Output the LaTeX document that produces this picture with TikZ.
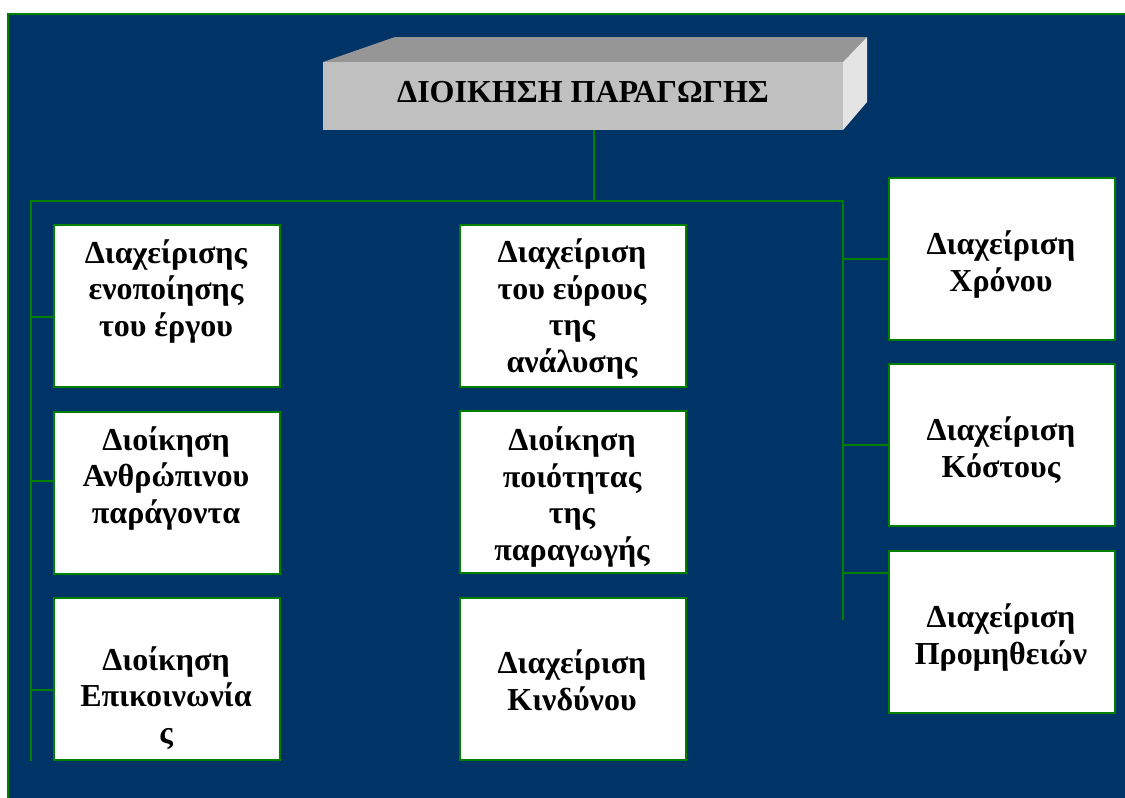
\documentclass[tikz,border=0pt]{standalone}
\usepackage{fontspec}
\setmainfont{Liberation Serif}
\definecolor{bgblue}{RGB}{0,51,102}
\definecolor{lgreen}{RGB}{0,128,0}
\definecolor{frontgray}{RGB}{192,192,192}
\definecolor{topgray}{RGB}{150,150,150}
\definecolor{sidegray}{RGB}{228,228,228}
\tikzset{
  conn/.style={draw=lgreen, line width=2pt},
  wbox/.style={draw=lgreen, line width=2pt, fill=white, minimum width=226pt, minimum height=162pt, inner sep=0pt, anchor=north west},
  wtext/.style={font=\fontsize{32}{36.5}\selectfont\bfseries, align=center, anchor=base, inner sep=0pt},
}
\begin{document}
\begin{tikzpicture}[x=1pt,y=-1pt]
\useasboundingbox (0,0) rectangle (1125,798);
\fill[bgblue] (7,13) rectangle (1125,798);
\draw[lgreen, line width=2pt] (8,798) -- (8,14) -- (1125,14);
% 3D title box
\fill[topgray] (323,62) -- (395,37) -- (867,37) -- (843,62) -- cycle;
\fill[sidegray] (843,62) -- (867,37) -- (867,102) -- (843,130) -- cycle;
\node[fill=frontgray, minimum width=520pt, minimum height=68pt, inner sep=0pt, anchor=north west] (top) at (323,62) {};
\node[font=\fontsize{32}{36}\selectfont\bfseries, anchor=base, inner sep=0pt] (toptext) at (583,102) {ΔΙΟΙΚΗΣΗ ΠΑΡΑΓΩΓΗΣ};
% connectors
\coordinate (bus) at (594,201);
\coordinate (busL) at (31,201);
\coordinate (busR) at (843,201);
\coordinate (leftEnd) at (31,761);
\coordinate (rightEnd) at (843,620);
\draw[conn] (top.south -| bus) -- (bus);
\draw[conn] (busR) -- (busL) -- (leftEnd);
\draw[conn] (busR) -- (rightEnd);
% boxes left
\node[wbox] (L1) at (53,224) {};
\node[wbox] (L2) at (53,411) {};
\node[wbox] (L3) at (53,597) {};
% boxes middle
\node[wbox] (M1) at (459,224) {};
\node[wbox] (M2) at (459,410) {};
\node[wbox] (M3) at (459,597) {};
% boxes right
\node[wbox] (R1) at (888,177) {};
\node[wbox] (R2) at (888,363) {};
\node[wbox] (R3) at (888,550) {};
% branches
\draw[conn] (L1.west |- 0,317) -- (31,317);
\draw[conn] (L2.west |- 0,481) -- (31,481);
\draw[conn] (L3.west |- 0,690) -- (31,690);
\draw[conn] (R1.west) -- (R1.west -| busR);
\draw[conn] (R2.west) -- (R2.west -| busR);
\draw[conn] (R3.west |- 0,573) -- (843,573);
% texts (anchored at the baseline of the last line)
\node[wtext] (L1t) at (166,336) {Διαχείρισης\\ενοποίησης\\του έργου};
\node[wtext] (L2t) at (166,523) {Διοίκηση\\Ανθρώπινου\\παράγοντα};
\node[wtext] (L3t) at (166,743) {Διοίκηση\\Επικοινωνία\\ς};
\node[wtext] (M1t) at (572,372) {Διαχείριση\\του εύρους\\της\\ανάλυσης};
\node[wtext] (M2t) at (572,560) {Διοίκηση\\ποιότητας\\της\\παραγωγής};
\node[wtext] (M3t) at (572,710) {Διαχείριση\\Κινδύνου};
\node[wtext] (R1t) at (1001,291) {Διαχείριση\\Χρόνου};
\node[wtext] (R2t) at (1001,477) {Διαχείριση\\Κόστους};
\node[wtext] (R3t) at (1001,664) {Διαχείριση\\Προμηθειών};
\end{tikzpicture}
\end{document}
